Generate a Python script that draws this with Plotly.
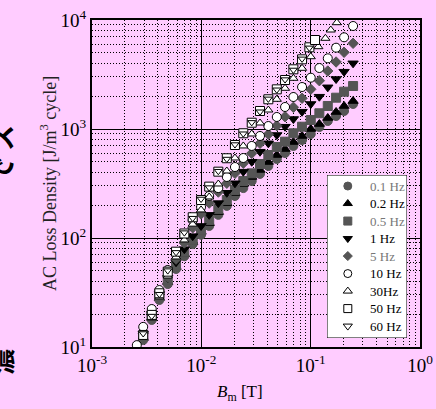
import plotly.graph_objects as go

# ---- data ----
B_cols = [0.00294, 0.00352, 0.00413, 0.00493, 0.00587, 0.00699, 0.00834, 0.00994,
          0.0118, 0.0143, 0.0171, 0.0203, 0.0242, 0.0289, 0.0344, 0.0410, 0.0490,
          0.0583, 0.0695, 0.0834, 0.1002, 0.1201, 0.1434, 0.1708, 0.2021, 0.2443]

loss_01Hz = [11.6, 17.7, 27.0, 37.8, 52.0, 68, 88, 107, 129, 163, 197, 243, 287, 333,
             387, 458, 531, 602, 699, 793, 900, 1043, 1184, 1316, 1463, 1696]
loss_02Hz = [12.1, 18.5, 28.2, 39.5, 54.2, 71, 92, 114, 137, 173, 209, 259, 313, 363,
             421, 498, 577, 655, 760, 863, 1000, 1111, 1262, 1432, 1626, 1806]
loss_05Hz = [12.6, 19.3, 29.4, 41.2, 56.5, 74, 96, 118, 146, 185, 223, 276, 333, 392,
             477, 577, 684, 765, 913, 1050, 1209, 1394, 1626, 1937, 2199, 2480]
loss_1Hz = [13.2, 20.1, 30.6, 43.0, 60, 79, 104, 129, 163, 209, 260, 318, 406, 501,
            619, 739, 881, 1050, 1235, 1441, 1696, 1979, 2413, 2875, 3355, 4006]
loss_5Hz = [13.4, 20.5, 30.6, 43.9, 64, 90, 124, 166, 209, 264, 318, 392, 485, 598,
            739, 894, 1072, 1297, 1582, 1913, 2313, 2774, 3405, 4118, 5054, 6114]

B_10Hz = [0.00257] + B_cols
loss_10Hz = [10.4, 15.3, 22.3, 33.3, 50.9, 74, 107, 146, 192, 243, 287, 363, 448, 542,
             699, 863, 1065, 1289, 1592, 1966, 2428, 2956, 3627, 4452, 5570, 6938, 8810]

B_30Hz = B_cols[:21] + [0.1176, 0.1363, 0.1527, 0.1733]
loss_30Hz = [12.4, 18.5, 28.8, 44.8, 67, 96, 134, 181, 238, 313, 412, 542, 699, 900,
             1135, 1494, 1873, 2363, 2919, 3605, 4605, 5690, 6793, 8096, 9445]

B_50Hz = B_cols[:20] + [0.0973, 0.1096]
loss_50Hz = [12.9, 19.7, 31.1, 49.1, 74.9, 110, 155, 223, 296, 406, 539, 713, 914, 1142,
             1463, 1873, 2312, 2815, 3529, 4357, 5617, 6554]
B_60Hz = B_cols[:20] + [0.0973]
loss_60Hz = [13.3, 19.2, 30.5, 50.2, 73.8, 112, 152, 228, 290, 410, 530, 720, 905, 1150,
             1440, 1890, 2290, 2840, 3480, 4400, 5550]

x_tickvals = [1e-3, 1e-2, 1e-1, 1]
x_ticktext = ["10<sup>-3</sup>", "10<sup>-2</sup>", "10<sup>-1</sup>", "10<sup>0</sup>"]
y_tickvals = [10, 100, 1000, 10000]
y_ticktext = ["10<sup>1</sup>", "10<sup>2</sup>", "10<sup>3</sup>", "10<sup>4</sup>"]

GREY = "#555555"
GREY_TXT = "#777777"
FONT = "Liberation Serif, Times New Roman, serif"

series = [
    ("0.1 Hz", B_cols, loss_01Hz, "circle", GREY, GREY, 9, True),
    ("0.2 Hz", B_cols, loss_02Hz, "triangle-up", "black", "black", 9, False),
    ("0.5 Hz", B_cols, loss_05Hz, "square", GREY, GREY, 9, True),
    ("1 Hz", B_cols, loss_1Hz, "triangle-down", "black", "black", 9, False),
    ("5 Hz", B_cols, loss_5Hz, "diamond", GREY, GREY, 8, True),
    ("10 Hz", B_10Hz, loss_10Hz, "circle", "white", "black", 9, False),
    ("30Hz", B_30Hz, loss_30Hz, "triangle-up", "white", "black", 8, False),
    ("50 Hz", B_50Hz, loss_50Hz, "square", "white", "black", 9, False),
    ("60 Hz", B_60Hz, loss_60Hz, "triangle-down", "white", "black", 7, False),
]

fig = go.Figure()
for name, xs, ys, sym, fill, line, size, grey_text in series:
    fig.add_trace(go.Scatter(
        x=xs, y=ys, mode="markers", name=name, showlegend=False,
        marker=dict(symbol=sym, color=fill, size=size,
                    line=dict(color=line, width=1)),
        xaxis="x", yaxis="y",
    ))

# ---- hand-made legend box on an auxiliary (hidden) subplot ----
fig.add_trace(go.Scatter(
    x=[0, 1, 1, 0, 0], y=[-0.63, -0.63, 8.68, 8.68, -0.63], mode="lines",
    fill="toself", fillcolor="white", line=dict(color="black", width=1),
    showlegend=False, hoverinfo="skip", xaxis="x2", yaxis="y2", cliponaxis=False,
))
for i, (name, xs, ys, sym, fill, line, size, grey_text) in enumerate(series):
    fig.add_trace(go.Scatter(
        x=[0.26], y=[i], mode="markers", showlegend=False, hoverinfo="skip",
        marker=dict(symbol=sym, color=fill, size=8 if sym != "diamond" else 7,
                    line=dict(color=line, width=1)),
        xaxis="x2", yaxis="y2",
    ))
    fig.add_annotation(text=name, xref="x2", yref="y2", x=0.51, y=i,
                       xanchor="left", yanchor="middle", showarrow=False,
                       font=dict(family=FONT, size=13,
                                 color=GREY_TXT if grey_text else "black"))

minor_vals_x = [m * 10 ** e for e in (-3, -2, -1) for m in range(2, 10)]
minor_vals_y = [m * 10 ** e for e in (1, 2, 3) for m in range(2, 10)]

axis_common = dict(
    type="log", showline=True, linecolor="black", linewidth=2, mirror=True,
    showgrid=True, gridcolor="black", gridwidth=1, ticks="", zeroline=False,
    automargin=False,
    tickfont=dict(family=FONT, size=19, color="black"),
)

fig.update_layout(
    xaxis=dict(**axis_common, range=[-3, 0], tickmode="array", tickvals=x_tickvals,
               ticktext=x_ticktext, domain=[0, 1],
               minor=dict(tickmode="array", tickvals=minor_vals_x, showgrid=True,
                          gridcolor="black", griddash="1px,2px", gridwidth=1,
                          ticks="")),
    yaxis=dict(**axis_common, range=[1, 4], tickmode="array", tickvals=y_tickvals,
               ticktext=y_ticktext, domain=[0, 1],
               minor=dict(tickmode="array", tickvals=minor_vals_y, showgrid=True,
                          gridcolor="black", griddash="1px,2px", gridwidth=1,
                          ticks="")),
    xaxis2=dict(domain=[(327 - 92) / 328, (407 - 92) / 328], range=[0, 1],
                visible=False, anchor="y2", fixedrange=True),
    yaxis2=dict(domain=[(347 - 338) / 327, (347 - 175) / 327], range=[8.68, -0.63],
                visible=False, anchor="x2", fixedrange=True),
)

fig.add_annotation(text="AC Loss Density [J/m<sup>3</sup> cycle]", textangle=-90,
                   xref="paper", yref="paper", x=(35 - 92) / 328, y=0.5,
                   showarrow=False,
                   font=dict(family=FONT, size=18, color="#222222"))
fig.add_annotation(text="<i>B</i><sub>m</sub> [T]", xref="paper", yref="paper",
                   x=(240 - 92) / 328, y=(347 - 393) / 327, yanchor="middle",
                   showarrow=False, font=dict(family=FONT, size=17, color="black"))

# partial slide text cut off at the left edge
for ch, ypx in (("ス", 138), ("で", 170), ("濃", 362)):
    fig.add_annotation(text=f"<b>{ch}</b>", textangle=-90, xref="paper", yref="paper",
                       x=(0 - 92) / 328, y=(347 - ypx) / 327, xanchor="center",
                       yanchor="middle", showarrow=False,
                       font=dict(family="Noto Sans CJK JP", size=26, color="black"))

fig.update_layout(
    width=436, height=409,
    margin=dict(l=92, r=16, t=20, b=62),
    paper_bgcolor="#ffccff", plot_bgcolor="#ffccff",
    showlegend=False,
)

fig.write_html("out.html")
